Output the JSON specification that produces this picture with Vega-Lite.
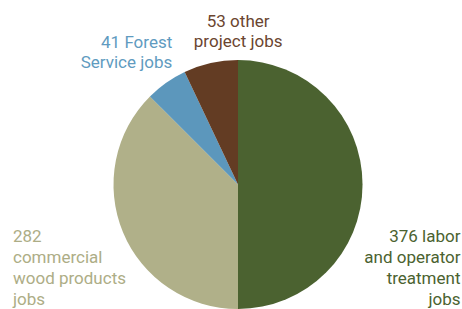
{
  "$schema": "https://vega.github.io/schema/vega-lite/v6.json",
  "autosize": "none",
  "width": 448,
  "height": 249,
  "padding": {"left": 14, "top": 60, "right": 0, "bottom": 0},
  "background": "white",
  "data": {
    "values": [
      {"cat": "labor", "jobs": 376, "rank": 1, "label": "376 labor\nand operator\ntreatment\njobs"},
      {"cat": "commercial", "jobs": 282, "rank": 2, "label": "282\ncommercial\nwood products\njobs"},
      {"cat": "forest", "jobs": 41, "rank": 3, "label": "41 Forest\nService jobs"},
      {"cat": "other", "jobs": 53, "rank": 4, "label": "53 other\nproject jobs"}
    ]
  },
  "encoding": {
    "theta": {"field": "jobs", "type": "quantitative", "stack": true},
    "order": {"field": "rank", "type": "quantitative"},
    "color": {
      "field": "cat",
      "type": "nominal",
      "legend": null,
      "scale": {
        "domain": ["labor", "commercial", "forest", "other"],
        "range": ["#4b6230", "#b0b089", "#5c97bc", "#633c23"]
      }
    }
  },
  "layer": [
    {"mark": {"type": "arc", "outerRadius": 124.5}},
    {
      "mark": {"type": "text", "radius": 124.5, "align": "right", "baseline": "alphabetic", "dx": 98, "dy": 57.5, "font": "Roboto", "fontSize": 17, "lineHeight": 21, "lineBreak": "\n", "fill": "#4b6230"},
      "encoding": {"text": {"condition": {"test": "datum.cat === 'labor'", "field": "label"}, "value": ""}, "color": {"value": "#4b6230"}}
    },
    {
      "mark": {"type": "text", "radius": 124.5, "align": "left", "baseline": "alphabetic", "dx": -110, "dy": 10, "font": "Roboto", "fontSize": 17, "lineHeight": 21, "lineBreak": "\n"},
      "encoding": {"text": {"condition": {"test": "datum.cat === 'commercial'", "field": "label"}, "value": ""}, "color": {"value": "#adad86"}}
    },
    {
      "mark": {"type": "text", "radius": 124.5, "align": "right", "baseline": "alphabetic", "dx": 6, "dy": -35, "font": "Roboto", "fontSize": 17, "lineHeight": 20, "lineBreak": "\n"},
      "encoding": {"text": {"condition": {"test": "datum.cat === 'forest'", "field": "label"}, "value": ""}, "color": {"value": "#5f9bc0"}}
    },
    {
      "mark": {"type": "text", "radius": 124.5, "align": "center", "baseline": "alphabetic", "dx": 27.5, "dy": -36, "font": "Roboto", "fontSize": 17, "lineHeight": 20, "lineBreak": "\n"},
      "encoding": {"text": {"condition": {"test": "datum.cat === 'other'", "field": "label"}, "value": ""}, "color": {"value": "#6b4530"}}
    }
  ],
  "config": {"view": {"stroke": null}}
}
